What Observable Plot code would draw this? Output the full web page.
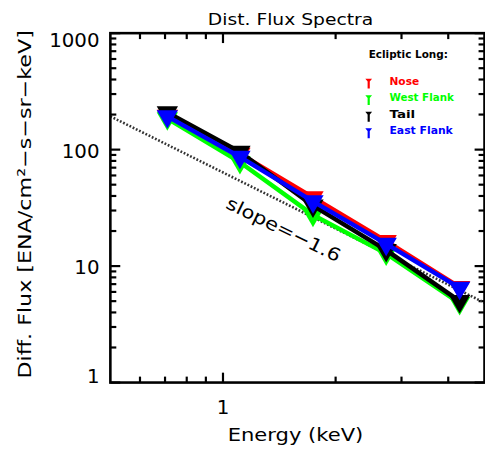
<!DOCTYPE html>
<html>
<head>
<meta charset="utf-8">
<script src="https://cdn.jsdelivr.net/npm/d3@7"></script>
<script src="https://cdn.jsdelivr.net/npm/@observablehq/plot@0.6"></script>
<style>
  html, body { margin: 0; padding: 0; background: #fff; overflow: hidden; }
  #chart { width: 485px; height: 456px; overflow: hidden; }
</style>
</head>
<body>
<div id="chart"></div>
<script>
// Energy pass-band centres (keV)
const energy = [0.71, 1.11, 1.74, 2.73, 4.29];

// Differential flux per ecliptic-longitude sector
const nose      = [195, 92, 38.8, 16.4, 6.6];
const westFlank = [185, 78, 27.5, 12.8, 4.8];
const tail      = [209, 95.5, 33, 13.7, 5.0];
const eastFlank = [193, 86.5, 35.9, 15.5, 6.5];

const seriesNames  = ["Nose", "West Flank", "Tail", "East Flank"];
const seriesValues = [nose, westFlank, tail, eastFlank];
const seriesColors = ["#ff0000", "#00ff00", "#000000", "#0000ff"];

// Reference power law (slope -1.6) end points
const refLine = [{x: 0.5, y: 193}, {x: 5, y: 193 * Math.pow(10, -1.6)}];
const slopeLabel = [{x: 1.45, y: 20.5, text: "slope=\u22121.6"}];

// Axis ticks
const xMajor = [1];
const xMinor = [0.6, 0.7, 0.8, 0.9, 2, 3, 4];
const yMajor = [1, 10, 100, 1000];
const yMinor = [1, 10, 100].flatMap(d => [2, 3, 4, 5, 6, 7, 8, 9].map(k => k * d));
const yTickLabels = ["1", "10", "100", "1000"];

const W = 490, H = 456;
const mL = 111, mR = 1, mT = 33, mB = 70;
const font = "DejaVu Sans, sans-serif";

const rows = seriesNames.map((name, i) =>
  energy.map((e, j) => ({series: name, energy: e, flux: seriesValues[i][j]}))
);

// Small dagger-shaped legend glyph: down triangle on a stem
const dagger = {
  draw(ctx) {
    ctx.moveTo(-3.4, -3); ctx.lineTo(3.4, -3); ctx.lineTo(0, 1.2); ctx.closePath();
    ctx.moveTo(-1.1, -3); ctx.lineTo(1.1, -3); ctx.lineTo(1.1, 7); ctx.lineTo(-1.1, 7); ctx.closePath();
  }
};

// Inward tick glyphs, drawn as dots pinned to a frame edge
const tickGlyph = (dx, dy) => ({draw(ctx) { ctx.moveTo(0, 0); ctx.lineTo(dx, dy); }});
const tickOpts = {fill: "none", stroke: "#000", strokeWidth: 2.2};

const marks = [
  // ticks on all four sides, pointing into the frame
  Plot.dot(xMajor, {x: d => d, frameAnchor: "bottom", symbol: tickGlyph(0, -10), ...tickOpts}),
  Plot.dot(xMinor, {x: d => d, frameAnchor: "bottom", symbol: tickGlyph(0, -6), ...tickOpts}),
  Plot.dot(xMajor, {x: d => d, frameAnchor: "top", symbol: tickGlyph(0, 10), ...tickOpts}),
  Plot.dot(xMinor, {x: d => d, frameAnchor: "top", symbol: tickGlyph(0, 6), ...tickOpts}),
  Plot.dot(yMajor, {y: d => d, frameAnchor: "left", symbol: tickGlyph(10, 0), ...tickOpts}),
  Plot.dot(yMinor, {y: d => d, frameAnchor: "left", symbol: tickGlyph(6, 0), ...tickOpts}),
  Plot.dot(yMajor, {y: d => d, frameAnchor: "right", symbol: tickGlyph(-10, 0), ...tickOpts}),
  Plot.dot(yMinor, {y: d => d, frameAnchor: "right", symbol: tickGlyph(-6, 0), ...tickOpts}),

  // reference slope line
  Plot.line(refLine, {x: "x", y: "y", stroke: "#333", strokeWidth: 2.6, strokeDasharray: "1.8,1.8", strokeLinecap: "butt"}),
  Plot.text(slopeLabel, {x: "x", y: "y", text: "text", rotate: 26, fontSize: 18, fontFamily: font, fill: "#000"}),

  // spectra
  ...rows.flatMap((data, i) => [
    Plot.line(data, {x: "energy", y: "flux", stroke: seriesColors[i], strokeWidth: 4.5}),
    Plot.dot(data, {x: "energy", y: "flux", symbol: "triangle", rotate: 180, r: 8, fill: seriesColors[i], stroke: "none"})
  ]),

  // tick labels
  Plot.text([yTickLabels[3]], {y: d => +d, text: d => d, frameAnchor: "left", textAnchor: "end", lineAnchor: "bottom", dx: -11, dy: 14, fontSize: 20, fontFamily: font}),
  Plot.text([yTickLabels[2]], {y: d => +d, text: d => d, frameAnchor: "left", textAnchor: "end", lineAnchor: "bottom", dx: -11, dy: 8, fontSize: 20, fontFamily: font}),
  Plot.text([yTickLabels[1]], {y: d => +d, text: d => d, frameAnchor: "left", textAnchor: "end", lineAnchor: "bottom", dx: -11, dy: 7.5, fontSize: 20, fontFamily: font}),
  Plot.text([yTickLabels[0]], {y: d => +d, text: d => d, frameAnchor: "left", textAnchor: "end", lineAnchor: "bottom", dx: -11, dy: 0, fontSize: 20, fontFamily: font}),
  Plot.text(xMajor, {x: d => d, text: d => String(d), frameAnchor: "bottom", textAnchor: "middle", lineAnchor: "bottom", dy: 32, fontSize: 20, fontFamily: font}),

  // titles
  Plot.text(["Dist. Flux Spectra"], {text: d => d, frameAnchor: "top", textAnchor: "middle", lineAnchor: "bottom", dx: -7, dy: -8, fontSize: 16.5, fontFamily: font}),
  Plot.text(["Energy (keV)"], {text: d => d, frameAnchor: "bottom", textAnchor: "middle", lineAnchor: "bottom", dx: -2, dy: 59, fontSize: 18, fontFamily: font}),
  Plot.text(["Diff. Flux [ENA/cm\u00b2\u2212s\u2212sr\u2212keV]"], {text: d => d, frameAnchor: "left", textAnchor: "middle", lineAnchor: "bottom", rotate: -90, dx: -80, dy: -3.5, fontSize: 18, fontFamily: font}),

  // legend
  Plot.text(["Ecliptic Long:"], {text: d => d, frameAnchor: "top-left", textAnchor: "start", lineAnchor: "bottom", dx: 261, dy: 25, fontSize: 10.5, fontWeight: "bold", fontFamily: font}),
  ...seriesNames.flatMap((name, i) => [
    Plot.dot([name], {frameAnchor: "top-left", dx: 261, dy: 49 + i * 16.7, symbol: dagger, fill: seriesColors[i], stroke: "none"}),
    Plot.text([name], {text: d => d, frameAnchor: "top-left", textAnchor: "start", lineAnchor: "bottom", dx: 282, dy: 52 + i * 16.7, fontSize: 10.5, fontWeight: "bold", fill: seriesColors[i], fontFamily: font})
  ]),

  Plot.frame({stroke: "#000", strokeWidth: 2.6})
];

const chart = Plot.plot({
  width: W, height: H,
  marginLeft: mL, marginRight: mR, marginTop: mT, marginBottom: mB,
  x: {type: "log", domain: [0.5, 5], axis: null},
  y: {type: "log", domain: [1, 1000], axis: null},
  style: {background: "#fff", color: "#000", fontFamily: font, overflow: "visible"},
  marks
});

// stretch the wide label strings to their set lengths
const fitWidths = {
  "Dist. Flux Spectra": 167,
  "Energy (keV)": 137,
  "Diff. Flux [ENA/cm\u00b2\u2212s\u2212sr\u2212keV]": 352,
  "Ecliptic Long:": 80,
  "Nose": 30, "West Flank": 65, "Tail": 26, "East Flank": 64,
  "slope=\u22121.6": 126
};
d3.select(chart).selectAll("text").each(function () {
  const t = this.textContent;
  if (fitWidths[t]) {
    this.setAttribute("textLength", fitWidths[t]);
    this.setAttribute("lengthAdjust", "spacingAndGlyphs");
  }
});

document.getElementById("chart").appendChild(chart);
</script>
</body>
</html>
